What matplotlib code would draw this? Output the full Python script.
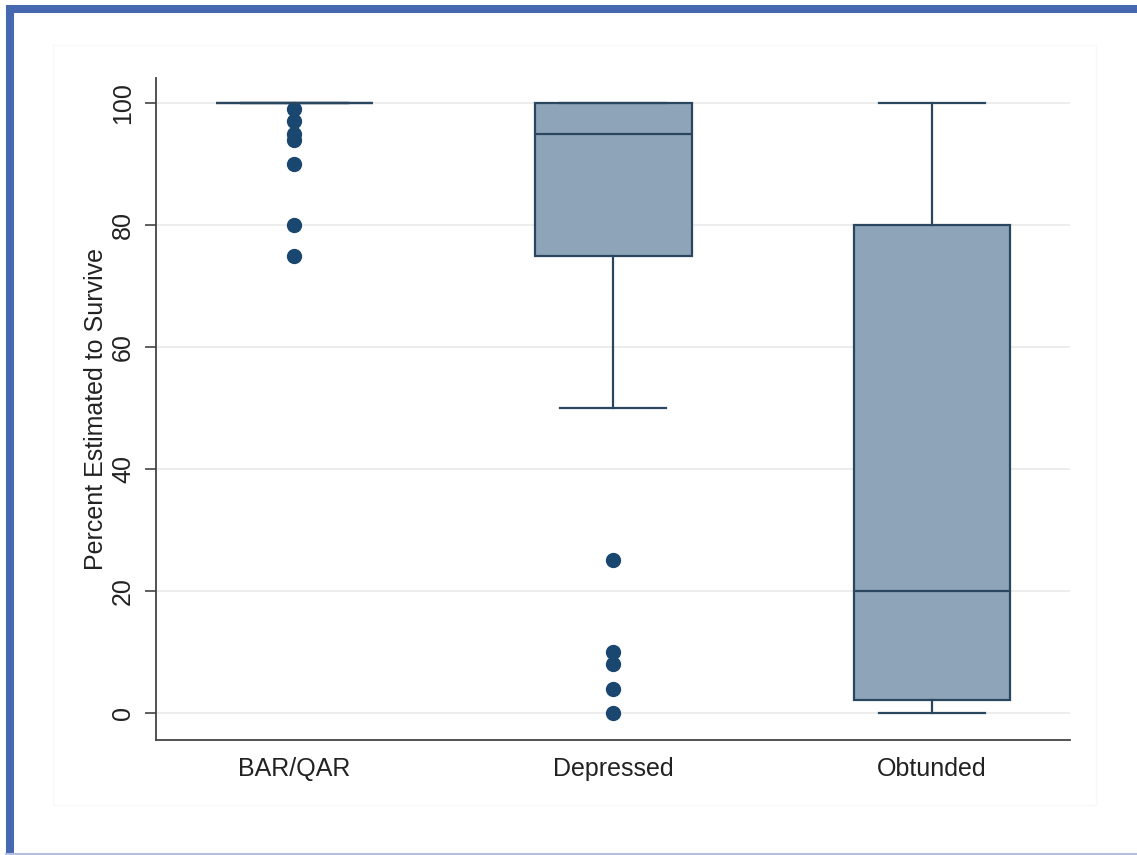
import numpy as np
import matplotlib.pyplot as plt
from matplotlib.lines import Line2D
from matplotlib.patches import Rectangle

plt.rcParams['font.family'] = ['Liberation Sans', 'DejaVu Sans']

# groups and box statistics
groups = ['BAR/QAR', 'Depressed', 'Obtunded']
q1 = [100, 75, 2.2]
med = [100, 95, 20]
q3 = [100, 100, 80]
whislo = [100, 50, 0]
whishi = [100, 100, 100]
fliers = [
    [99, 97, 95, 94, 90, 80, 75],
    [25, 10, 8, 4, 0],
    [],
]
yticks = [0, 20, 40, 60, 80, 100]

navy = '#1a476f'
edge = '#2b465f'
fill = '#8ea4b9'

fig = plt.figure(figsize=(11.37, 8.55), dpi=100)
W, H = 1137, 855
ax = fig.add_axes([156/W, 1-740/H, (1070-156)/W, (740-78)/H])

stats = []
for i in range(len(groups)):
    stats.append(dict(label=groups[i], q1=q1[i], med=med[i], q3=q3[i],
                      whislo=whislo[i], whishi=whishi[i],
                      fliers=np.array(fliers[i], dtype=float)))

pos = np.arange(1, len(groups) + 1)
ax.bxp(stats, positions=pos, widths=0.492, capwidths=0.335,
       patch_artist=True, showfliers=True,
       boxprops=dict(facecolor=fill, edgecolor=edge, linewidth=1.6),
       medianprops=dict(color=edge, linewidth=1.6),
       whiskerprops=dict(color=edge, linewidth=1.6),
       capprops=dict(color=edge, linewidth=1.6),
       flierprops=dict(marker='o', markerfacecolor=navy, markeredgecolor=navy,
                       markersize=10, linestyle='none'))

fs = 18
ax.set_xlim(0.567, 3.4326)
ax.set_ylim(-4.43, 104.1)
ax.set_yticks(yticks)
ax.set_yticklabels([str(v) for v in yticks], rotation=90, va='center', fontsize=fs)
ax.set_xticks(pos)
ax.set_xticklabels(groups, fontsize=fs)
ax.tick_params(axis='x', length=0, pad=12, colors='#222222')
ax.tick_params(axis='y', length=8, width=1.2, pad=7, color='#444444', labelcolor='#222222')
ax.set_ylabel('Percent Estimated to Survive', fontsize=fs, labelpad=2, color='#222222')
ax.yaxis.grid(True, color='#ececec', linewidth=1.3)
ax.set_axisbelow(True)
for s in ['top', 'right']:
    ax.spines[s].set_visible(False)
for s in ['left', 'bottom']:
    ax.spines[s].set_color('#444444')
    ax.spines[s].set_linewidth(1.3)

# faint graph region outline
fig.add_artist(Rectangle((53/W, 1-805/H), (1096-53)/W, (805-45)/H,
                         transform=fig.transFigure, fill=False,
                         edgecolor='#f8f8f8', linewidth=1))

# blue frame around the picture
fig.add_artist(Line2D([6/W, 1.0], [1-9/H, 1-9/H], transform=fig.transFigure,
                      color='#4668b0', linewidth=5.8, solid_capstyle='butt'))
fig.add_artist(Line2D([10/W, 10/W], [0, 1-5/H], transform=fig.transFigure,
                      color='#4668b0', linewidth=5.8, solid_capstyle='butt'))
fig.add_artist(Line2D([6/W, 1.0], [1.5/H, 1.5/H], transform=fig.transFigure,
                      color='#b4c0de', linewidth=1.5))

fig.savefig('out.png', dpi=100)
